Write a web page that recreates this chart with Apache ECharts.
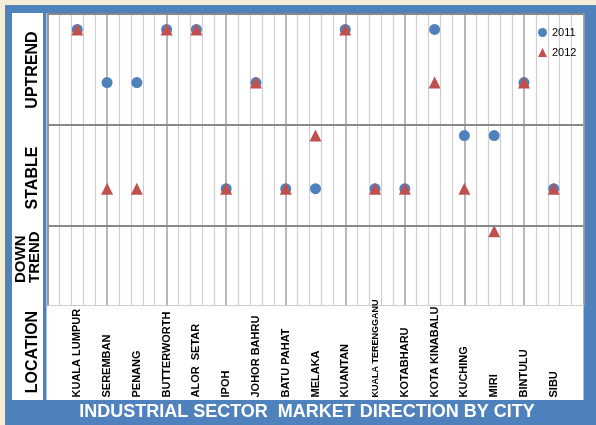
<!DOCTYPE html>
<html>
<head>
<meta charset="utf-8">
<script src="https://cdn.jsdelivr.net/npm/echarts@6/dist/echarts.min.js"></script>
<style>
  html, body { margin: 0; padding: 0; }
  #main { width: 596px; height: 425px; }
</style>
</head>
<body>
<div id="main"></div>
<script>
var cities = ['KUALA LUMPUR', 'SEREMBAN', 'PENANG', 'BUTTERWORTH', 'ALOR  SETAR', 'IPOH',
    'JOHOR BAHRU', 'BATU PAHAT', 'MELAKA', 'KUANTAN', 'KUALA TERENGGANU', 'KOTABHARU',
    'KOTA KINABALU', 'KUCHING', 'MIRI', 'BINTULU', 'SIBU'];
// position on the direction scale (higher = uptrend)
var dir2011 = [5.2, 4.2, 4.2, 5.2, 5.2, 2.2, 4.2, 2.2, 2.2, 5.2, 2.2, 2.2, 5.2, 3.2, 3.2, 4.2, 2.2];
var dir2012 = [5.2, 2.2, 2.2, 5.2, 5.2, 2.2, 4.2, 2.2, 3.2, 5.2, 2.2, 2.2, 4.2, 2.2, 1.4, 4.2, 2.2];
// band borders: top, uptrend/stable, stable/downtrend
var bandLines = [5.5, 3.4, 1.5];

var blue = '#4F81BD';
var red = '#C0504D';
var font = '"Liberation Sans", Arial, sans-serif';

var toPoints = function (arr) {
    return arr.map(function (v, i) { return [i + 1, v]; });
};

var sideLabel = function (text, x, y, size, align) {
    return {
        type: 'text',
        x: x,
        y: y,
        rotation: Math.PI / 2,
        z: 10,
        style: {
            text: text,
            fill: '#000',
            fontSize: size,
            fontWeight: 'bold',
            fontFamily: font,
            lineHeight: 14,
            textAlign: align || 'center',
            textVerticalAlign: 'middle'
        }
    };
};

var option = {
    backgroundColor: '#f3edd8',
    animation: false,
    textStyle: { fontFamily: font },
    graphic: [
        { type: 'rect', z: -10, shape: { x: 5, y: 5, width: 591, height: 420 }, style: { fill: blue } },
        { type: 'rect', z: -9, shape: { x: 12, y: 13, width: 31, height: 387 }, style: { fill: '#fff' } },
        { type: 'rect', z: -9, shape: { x: 46.5, y: 13, width: 537, height: 387 }, style: { fill: '#fff' } },
        sideLabel('UPTREND', 33, 70, 16),
        sideLabel('STABLE', 33, 178, 16),
        sideLabel('DOWN\nTREND', 27.5, 283, 15, 'left'),
        sideLabel('LOCATION', 33, 352, 16),
        {
            type: 'text',
            x: 307,
            y: 412,
            z: 10,
            style: {
                text: 'INDUSTRIAL SECTOR  MARKET DIRECTION BY CITY',
                fill: '#fff',
                fontSize: 18,
                fontWeight: 'bold',
                fontFamily: font,
                textAlign: 'center',
                textVerticalAlign: 'middle'
            }
        }
    ],
    legend: {
        orient: 'vertical',
        left: 533,
        top: 22,
        itemWidth: 9,
        itemHeight: 9,
        itemGap: 9,
        textStyle: { fontSize: 11, color: '#000' },
        data: [
            { name: '2011', icon: 'circle' },
            { name: '2012', icon: 'triangle' }
        ]
    },
    grid: {
        left: 47.5,
        right: 12.5,
        top: 13.5,
        bottom: 119.5
    },
    xAxis: [
        {
            type: 'value',
            min: 0,
            max: 18,
            interval: 2,
            axisLine: { show: true, lineStyle: { color: '#cccccc', width: 1 } },
            axisTick: { show: false },
            axisLabel: { show: false },
            splitLine: { show: true, lineStyle: { color: '#a0a0a0', width: 1.5 } },
            minorTick: { show: false, splitNumber: 5 },
            minorSplitLine: { show: true, lineStyle: { color: '#cfcfcf', width: 1.2 } }
        },
        {
            type: 'value',
            position: 'bottom',
            min: 0,
            max: 18,
            interval: 1,
            axisLine: { show: false },
            axisTick: { show: false },
            splitLine: { show: false },
            axisLabel: {
                rotate: 90,
                align: 'left',
                verticalAlign: 'middle',
                margin: 92,
                color: '#000',
                fontSize: 11,
                fontWeight: 'bold',
                formatter: function (v) {
                    var name = cities[v - 1];
                    if (!name) return '';
                    return name.length > 14 ? '{s|' + name + '}' : name;
                },
                rich: {
                    s: { fontSize: 9, fontWeight: 'bold', color: '#000' }
                }
            }
        }
    ],
    yAxis: {
        type: 'value',
        min: 0,
        max: 5.5,
        axisLine: { show: true, lineStyle: { color: '#999999', width: 2 } },
        axisTick: { show: false },
        axisLabel: { show: false },
        splitLine: { show: false }
    },
    series: [
        {
            name: 'bands',
            type: 'line',
            data: [],
            z: 1,
            silent: true,
            markLine: {
                silent: true,
                symbol: 'none',
                label: { show: false },
                lineStyle: { color: '#888888', width: 2, type: 'solid' },
                data: bandLines.map(function (v) { return { yAxis: v }; })
            }
        },
        {
            name: '2011',
            type: 'scatter',
            symbol: 'circle',
            symbolSize: 11,
            z: 3,
            itemStyle: { color: blue, opacity: 1 },
            data: toPoints(dir2011)
        },
        {
            name: '2012',
            type: 'scatter',
            symbol: 'triangle',
            symbolSize: 12,
            z: 4,
            itemStyle: { color: red, opacity: 1 },
            data: toPoints(dir2012)
        }
    ]
};

var myChart = echarts.init(document.getElementById('main'));
myChart.setOption(option);
window.addEventListener('resize', function () {
    myChart.resize();
});
</script>
</body>
</html>
